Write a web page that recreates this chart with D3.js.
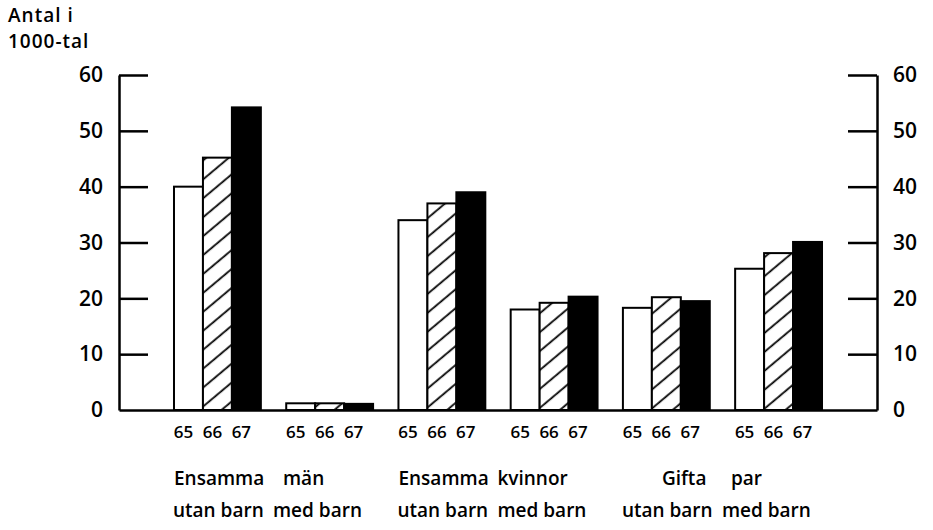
<!DOCTYPE html>
<html><head><meta charset="utf-8">
<script src="https://cdn.jsdelivr.net/npm/d3@7"></script>
<style>
html,body{margin:0;padding:0;background:#fff;}
svg{display:block;font-family:"Open Sans",sans-serif;font-weight:600;}
</style></head>
<body><svg id="c" width="933" height="530"></svg>
<script>
const groups = ["Ensamma män utan barn","Ensamma män med barn","Ensamma kvinnor utan barn","Ensamma kvinnor med barn","Gifta par utan barn","Gifta par med barn"];
const years = ["65","66","67"];
const v65 = [40, 1.2, 34, 18, 18.3, 25.3];
const v66 = [45.2, 1.2, 37, 19.2, 20.2, 28.1];
const v67 = [54.2, 1.1, 39, 20.3, 19.5, 30.1];
const yTicks = [0,10,20,30,40,50,60];
const titleLines = ["Antal i","1000-tal"];
const pairTitles = [["Ensamma","män"],["Ensamma","kvinnor"],["Gifta","par"]];
const subLabels = ["utan barn","med barn"];

const series = [v65, v66, v67];
const svg = d3.select("#c");

// hatch pattern
const defs = svg.append("defs");
const pat = defs.append("pattern").attr("id","hatch").attr("patternUnits","userSpaceOnUse")
  .attr("width",14.5).attr("height",14.5).attr("patternTransform","rotate(-40)");
pat.append("rect").attr("width",14.5).attr("height",14.5).attr("fill","#fff");
pat.append("line").attr("x1",-2).attr("x2",17).attr("y1",7).attr("y2",7).attr("stroke","#000").attr("stroke-width",1.8);
const fills = ["#fff","url(#hatch)","#000"];

const y = d3.scaleLinear().domain([0,60]).range([410,75]);
const x = d3.scaleBand().domain(groups).range([119,877]).paddingInner(0.226).paddingOuter(0.49);
const xi = d3.scaleBand().domain(years).range([0, x.bandwidth()]);

// bars
groups.forEach((g,gi)=>{
  years.forEach((yr,yi)=>{
    const val = series[yi][gi];
    svg.append("rect")
      .attr("x", x(g)+xi(yr))
      .attr("y", y(val))
      .attr("width", xi.bandwidth())
      .attr("height", y(0)-y(val))
      .attr("fill", fills[yi])
      .attr("stroke","#000").attr("stroke-width",2);
    svg.append("text")
      .attr("x", x(g)+xi(yr)+xi.bandwidth()/2-5)
      .attr("y", 438)
      .attr("text-anchor","middle")
      .attr("font-size",17)
      .text(yr);
  });
});

// axes
const left = svg.append("g").attr("transform","translate(119,0)")
  .call(d3.axisLeft(y).tickValues(yTicks).tickSizeInner(-29).tickSizeOuter(0).tickPadding(16).tickFormat(d3.format("d")));
const right = svg.append("g").attr("transform","translate(877,0)")
  .call(d3.axisRight(y).tickValues(yTicks).tickSizeInner(-29).tickSizeOuter(0).tickPadding(16).tickFormat(d3.format("d")));
[left,right].forEach(a=>{
  a.selectAll("path,line").attr("stroke","#000").attr("stroke-width",2.5);
  a.selectAll("text").attr("font-size",21).attr("font-family","Open Sans").attr("font-weight",600).attr("fill","#000");
  a.selectAll(".tick").filter(d=>d===0).select("line").remove();
});
svg.append("g").attr("transform","translate(0,410)")
  .call(d3.axisBottom(x).tickValues([]).tickSizeOuter(0))
  .selectAll("path").attr("stroke","#000").attr("stroke-width",2.5);

// title
svg.append("g").selectAll("text").data(titleLines).join("text")
  .attr("x",8).attr("y",(d,i)=>22+i*26).attr("font-size",19).attr("letter-spacing",1).text(d=>d);

// category labels
const titleOffsets = [[0,109],[0,99],[39,108]];
pairTitles.forEach((p,pi)=>{
  const g0 = groups[pi*2];
  const x0 = x(g0);
  const t = svg.append("text").attr("y",485).attr("font-size",19);
  p.forEach((w,wi)=>{
    t.append("tspan").attr("x", x0+titleOffsets[pi][wi]).text(w);
  });
  subLabels.forEach((s,si)=>{
    svg.append("text").attr("x", x0-1+si*100).attr("y",517).attr("font-size",19).text(s);
  });
});
</script></body></html>
